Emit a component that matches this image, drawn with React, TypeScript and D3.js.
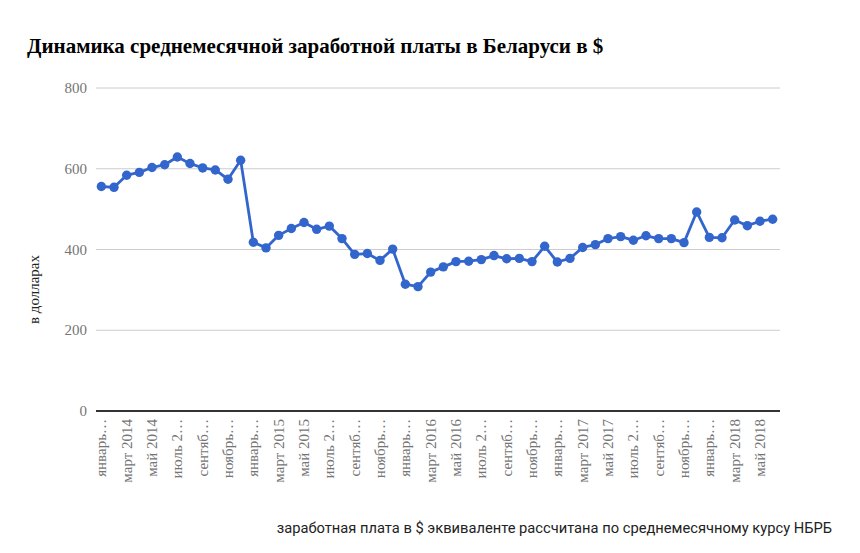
import React, { useEffect, useRef } from "react";
import * as d3 from "d3";

// Monthly average wage in Belarus, USD (January 2014 – June 2018)
const months = [
  "2014-01", "2014-02", "2014-03", "2014-04", "2014-05", "2014-06",
  "2014-07", "2014-08", "2014-09", "2014-10", "2014-11", "2014-12",
  "2015-01", "2015-02", "2015-03", "2015-04", "2015-05", "2015-06",
  "2015-07", "2015-08", "2015-09", "2015-10", "2015-11", "2015-12",
  "2016-01", "2016-02", "2016-03", "2016-04", "2016-05", "2016-06",
  "2016-07", "2016-08", "2016-09", "2016-10", "2016-11", "2016-12",
  "2017-01", "2017-02", "2017-03", "2017-04", "2017-05", "2017-06",
  "2017-07", "2017-08", "2017-09", "2017-10", "2017-11", "2017-12",
  "2018-01", "2018-02", "2018-03", "2018-04", "2018-05", "2018-06",
];

const wages = [
  556, 554, 584, 591, 603, 610, 629, 613, 602, 597, 574, 621,
  418, 404, 435, 452, 467, 450, 458, 427, 388, 390, 373, 401,
  314, 308, 344, 357, 370, 371, 375, 385, 377, 378, 370, 408,
  369, 378, 405, 412, 427, 432, 423, 434, 427, 427, 417, 493,
  430, 429, 473, 459, 470, 475,
];

// Axis labels as shown (every second month, truncated like the original)
const tickLabels = [
  "январь…", "март 2014", "май 2014", "июль 2…", "сентяб…", "ноябрь…",
  "январь…", "март 2015", "май 2015", "июль 2…", "сентяб…", "ноябрь…",
  "январь…", "март 2016", "май 2016", "июль 2…", "сентяб…", "ноябрь…",
  "январь…", "март 2017", "май 2017", "июль 2…", "сентяб…", "ноябрь…",
  "январь…", "март 2018", "май 2018",
];

const yTicks = [0, 200, 400, 600, 800];

const title = "Динамика среднемесячной заработной платы в Беларуси в $";
const yTitle = "в долларах";
const footnote =
  "заработная плата в $ эквиваленте рассчитана по среднемесячному курсу НБРБ";

const width = 860;
const height = 553;
const plotLeft = 95;
const plotRight = 779;
const plotTop = 88;
const plotBottom = 411;
const serif = "'Liberation Serif', 'Times New Roman', serif";

const App: React.FC = () => {
  const svgRef = useRef<SVGSVGElement>(null);

  useEffect(() => {
    if (!svgRef.current) return;
    const svg = d3.select(svgRef.current);
    svg.selectAll("*").remove();

    const x = d3
      .scaleBand()
      .domain(months)
      .range([plotLeft, plotRight]);
    const cx = (m: string) => (x(m) || 0) + x.bandwidth() / 2;

    const y = d3
      .scaleLinear()
      .domain([0, 800])
      .range([plotBottom, plotTop]);

    // Title
    svg
      .append("text")
      .attr("x", 27)
      .attr("y", 53)
      .attr("font-family", serif)
      .attr("font-weight", "bold")
      .attr("font-size", 21)
      .attr("fill", "#000")
      .text(title);

    // Grid lines
    svg
      .append("g")
      .selectAll("line")
      .data(yTicks.filter((t) => t > 0))
      .join("line")
      .attr("x1", plotLeft + 1)
      .attr("x2", plotRight + 1)
      .attr("y1", (d) => y(d))
      .attr("y2", (d) => y(d))
      .attr("stroke", "#cccccc")
      .attr("stroke-width", 1);

    // Y tick labels
    svg
      .append("g")
      .selectAll("text")
      .data(yTicks)
      .join("text")
      .attr("x", 87)
      .attr("y", (d) => y(d) + 5)
      .attr("text-anchor", "end")
      .attr("font-family", serif)
      .attr("font-size", 15)
      .attr("fill", "#757575")
      .text((d) => d);

    // Y title
    svg
      .append("text")
      .attr("transform", `translate(39,${(plotTop + plotBottom) / 2 + 40}) rotate(-90)`)
      .attr("text-anchor", "middle")
      .attr("font-family", serif)
      .attr("font-size", 15)
      .attr("fill", "#222")
      .text(yTitle);

    // X labels (every second month)
    svg
      .append("g")
      .selectAll("text")
      .data(tickLabels)
      .join("text")
      .attr(
        "transform",
        (_, i) => `translate(${cx(months[i * 2]) + 5},${plotBottom + 8}) rotate(-90)`
      )
      .attr("text-anchor", "end")
      .attr("font-family", serif)
      .attr("font-size", 15)
      .attr("fill", "#757575")
      .text((d) => d);

    // Baseline
    svg
      .append("line")
      .attr("x1", plotLeft + 1)
      .attr("x2", plotRight + 1)
      .attr("y1", y(0))
      .attr("y2", y(0))
      .attr("stroke", "#333")
      .attr("stroke-width", 2);

    // Line
    const line = d3
      .line<number>()
      .x((_, i) => cx(months[i]))
      .y((d) => y(d));

    svg
      .append("path")
      .datum(wages)
      .attr("d", line)
      .attr("fill", "none")
      .attr("stroke", "#3366cc")
      .attr("stroke-width", 2.8)
      .attr("stroke-linejoin", "round");

    svg
      .append("g")
      .selectAll("circle")
      .data(wages)
      .join("circle")
      .attr("cx", (_, i) => cx(months[i]))
      .attr("cy", (d) => y(d))
      .attr("r", 4.7)
      .attr("fill", "#3366cc");

    // Footnote
    svg
      .append("text")
      .attr("x", 832)
      .attr("y", 533)
      .attr("text-anchor", "end")
      .attr("font-family", "Roboto, Arial, sans-serif")
      .attr("font-size", 14.7)
      .attr("fill", "#222")
      .text(footnote);
  }, []);

  return (
    <svg
      ref={svgRef}
      width={width}
      height={height}
      style={{ position: "absolute", left: 0, top: 0, background: "#fff" }}
    />
  );
};

export default App;
